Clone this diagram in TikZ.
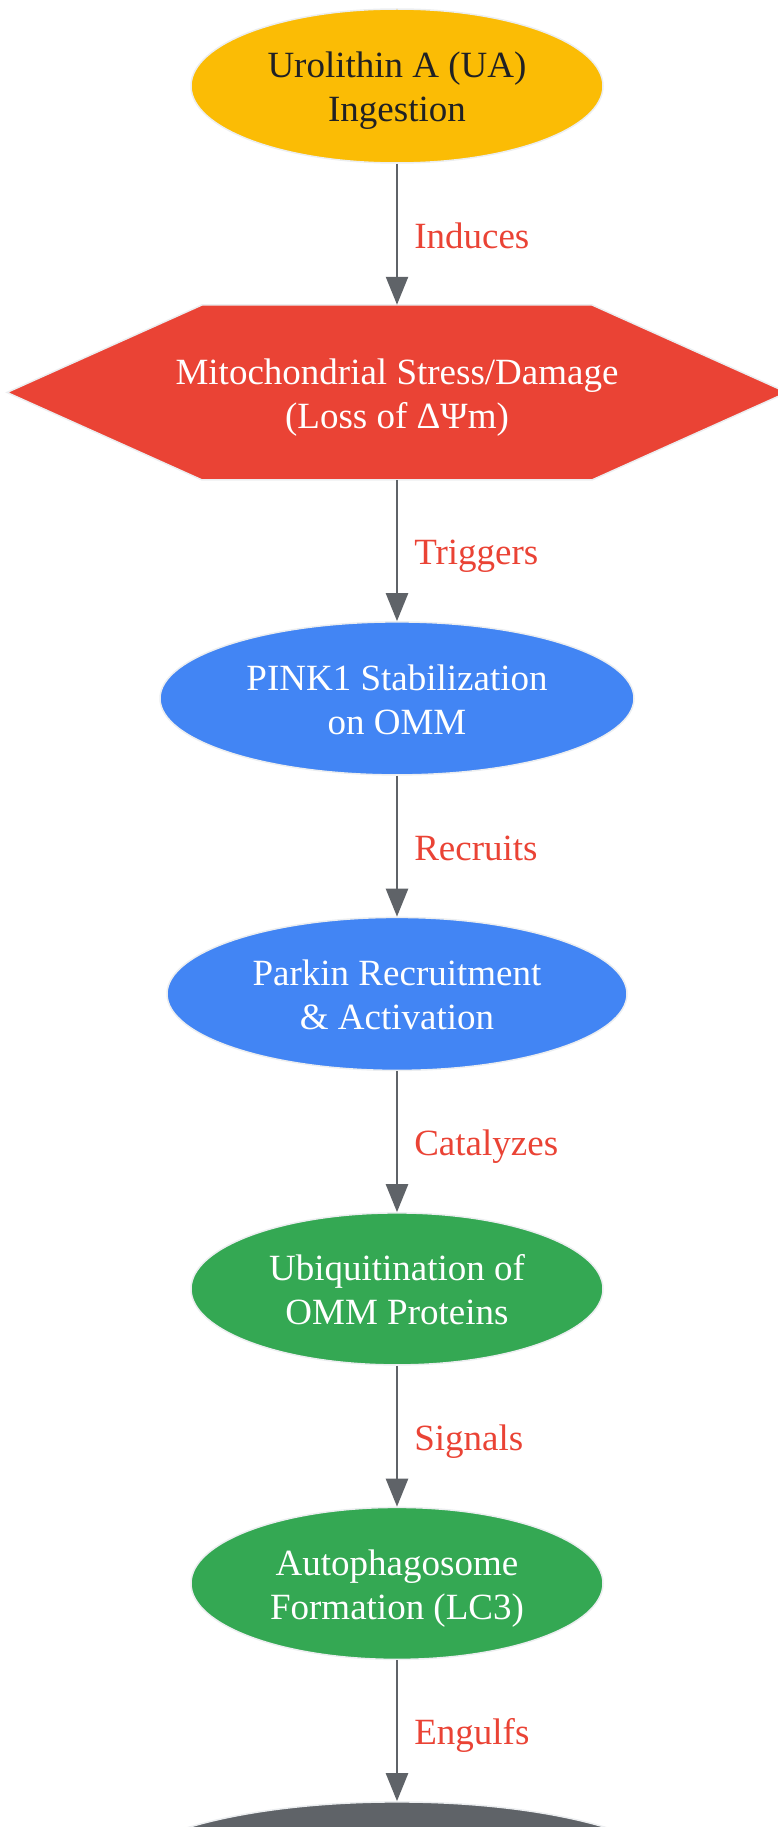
\documentclass[tikz,border=0pt]{standalone}
\usepackage{fontspec}
\setmainfont{Liberation Serif}
\usepackage{tikz}
\usetikzlibrary{arrows.meta,positioning,shapes.geometric,backgrounds}
\definecolor{uayellow}{RGB}{251,188,5}
\definecolor{stressred}{RGB}{234,67,53}
\definecolor{pinkblue}{RGB}{66,133,244}
\definecolor{phagogreen}{RGB}{52,168,83}
\definecolor{lysogray}{RGB}{95,99,104}
\definecolor{darktext}{RGB}{32,33,36}
\definecolor{rimgray}{RGB}{236,238,240}
% fixed line heights, so that every two-line text sits alike
\newcommand{\upstrut}{\rule{0pt}{38pt}}
\newcommand{\downstrut}{\rule[-10pt]{0pt}{10pt}}
\newcommand{\twolines}[2]{\upstrut#1\\#2\downstrut}
\tikzset{
  stepnode/.style={ellipse, draw=rimgray, line width=1.5pt, align=center,
    inner sep=0pt, text=white},
  uanode/.style={stepnode, fill=uayellow, text=darktext,
    minimum width=412pt, minimum height=154pt},
  bluenode/.style={stepnode, fill=pinkblue, minimum height=153pt},
  greennode/.style={stepnode, fill=phagogreen,
    minimum width=412pt, minimum height=152pt},
  endnode/.style={stepnode, fill=lysogray,
    minimum width=570pt, minimum height=160pt},
  stressnode/.style={rectangle, align=center, inner sep=0pt, text=white,
    minimum width=392pt, minimum height=175pt},
  flow/.style={-{Triangle[length=28pt,width=22pt]}, line width=2.6pt, lysogray},
  edgelabel/.style={midway, right=16pt, inner sep=0pt, text=stressred,
    text height=36pt, text depth=8pt}
}

\begin{document}
\begin{tikzpicture}[node distance=141pt,
  font=\fontsize{37pt}{44pt}\selectfont]
\useasboundingbox (0,0) rectangle (778pt,-1827pt);

\node[uanode] (ua) at (397pt,-86pt) {\twolines{Urolithin A (UA)}{Ingestion}};
\node[stressnode, below=of ua] (stress) {\twolines{Mitochondrial Stress/Damage}{(Loss of ΔΨm)}};
\node[bluenode, minimum width=474pt, below=of stress] (pink) {\twolines{PINK1 Stabilization}{on OMM}};
\node[bluenode, minimum width=460pt, below=of pink] (parkin) {\twolines{Parkin Recruitment}{\& Activation}};
\node[greennode, below=of parkin] (ubiq) {\twolines{Ubiquitination of}{OMM Proteins}};
\node[greennode, below=of ubiq] (auto) {\twolines{Autophagosome}{Formation (LC3)}};
\node[endnode, below=of auto] (lyso) {};

% hexagon behind the stress node
\begin{scope}[on background layer]
\filldraw[fill=stressred, draw=rimgray, line width=1.5pt]
  ([shift={(-195pt,87.5pt)}]stress.center) -- ([shift={(195pt,87.5pt)}]stress.center)
  -- ([shift={(390pt,0pt)}]stress.center) -- ([shift={(195pt,-87.5pt)}]stress.center)
  -- ([shift={(-195pt,-87.5pt)}]stress.center) -- ([shift={(-390pt,0pt)}]stress.center) -- cycle;
\end{scope}

\draw[flow] (ua) -- node[edgelabel] {Induces} (stress);
\draw[flow] (stress) -- node[edgelabel] {Triggers} (pink);
\draw[flow] (pink) -- node[edgelabel] {Recruits} (parkin);
\draw[flow] (parkin) -- node[edgelabel] {Catalyzes} (ubiq);
\draw[flow] (ubiq) -- node[edgelabel] {Signals} (auto);
\draw[flow] (auto) -- node[edgelabel] {Engulfs} (lyso);
\end{tikzpicture}
\end{document}
